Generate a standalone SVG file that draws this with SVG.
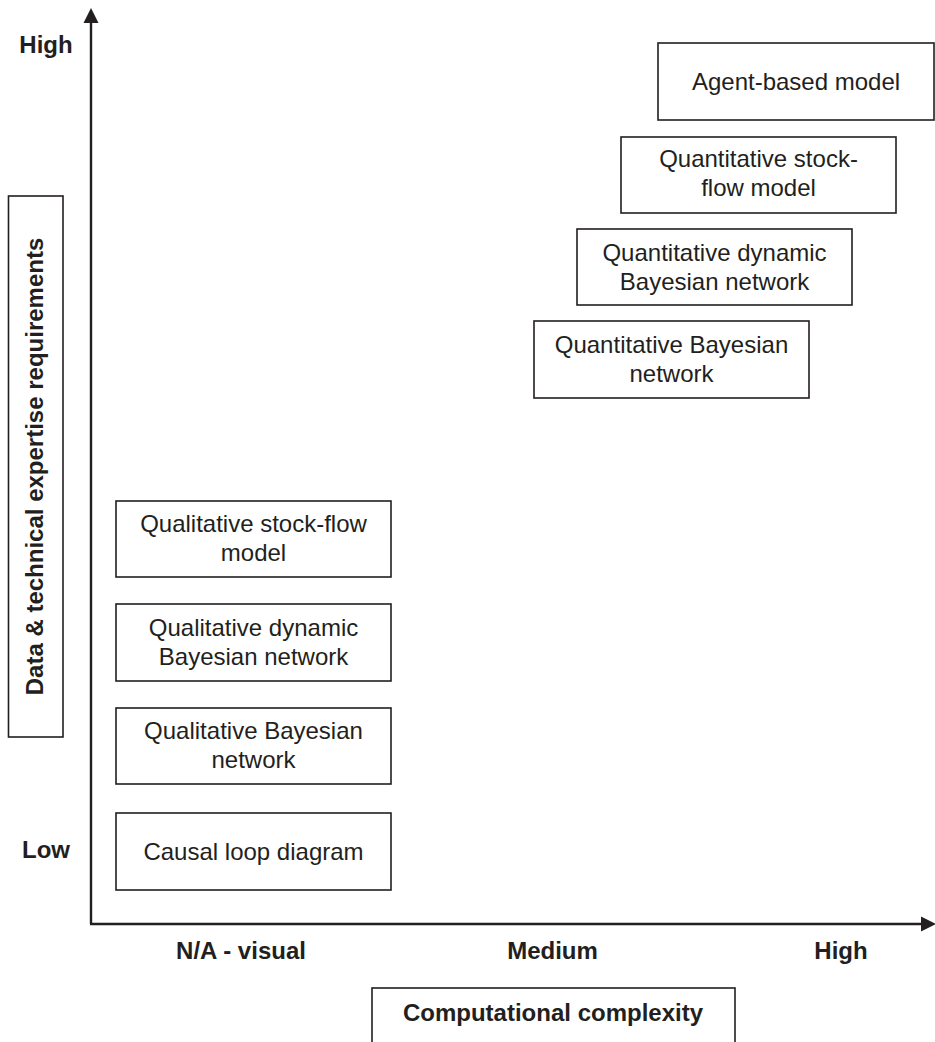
<svg xmlns="http://www.w3.org/2000/svg" width="935" height="1042" viewBox="0 0 935 1042">
<style>
.box{fill:#fff;stroke:#231f20;stroke-width:1.6}
.t{font-family:"Liberation Sans",Arial,sans-serif;font-size:24px;fill:#231f20;text-anchor:middle}
.b{font-family:"Liberation Sans",Arial,sans-serif;font-size:24px;font-weight:bold;fill:#231f20;text-anchor:middle}
.axis{stroke:#231f20;stroke-width:2.4;fill:none}
</style>
<rect width="935" height="1042" fill="#fff"/>
<g id="connectors">
<line class="axis" x1="91" y1="924" x2="91" y2="20"/>
<polygon points="91,8 83.5,23 98.5,23" fill="#231f20"/>
<line class="axis" x1="90" y1="924" x2="922" y2="924"/>
<polygon points="936,924 921,916.5 921,931.5" fill="#231f20"/>
</g>
<g id="axis-labels">
<text class="b" x="46" y="53">High</text>
<text class="b" x="46" y="858">Low</text>
<text class="b" x="241" y="959">N/A - visual</text>
<text class="b" x="552.5" y="959">Medium</text>
<text class="b" x="841" y="959">High</text>
</g>
<g id="y-title">
<rect class="box" x="8.5" y="196" width="54.5" height="541"/>
<text class="b" transform="translate(43,466.5) rotate(-90)">Data &amp; technical expertise requirements</text>
</g>
<g id="x-title">
<rect class="box" x="372" y="988" width="363" height="60"/>
<text class="b" x="553" y="1021">Computational complexity</text>
</g>
<g id="agent-based-model">
<rect class="box" x="658" y="43" width="276" height="77"/>
<text class="t" x="796" y="90">Agent-based model</text>
</g>
<g id="quant-stock-flow">
<rect class="box" x="621" y="137" width="275" height="76"/>
<text class="t" x="758.5" y="167">Quantitative stock-</text>
<text class="t" x="758.5" y="196">flow model</text>
</g>
<g id="quant-dynamic-bn">
<rect class="box" x="577" y="229" width="275" height="76"/>
<text class="t" x="714.5" y="261">Quantitative dynamic</text>
<text class="t" x="714.5" y="290">Bayesian network</text>
</g>
<g id="quant-bn">
<rect class="box" x="534" y="321" width="275" height="77"/>
<text class="t" x="671.5" y="353">Quantitative Bayesian</text>
<text class="t" x="671.5" y="382">network</text>
</g>
<g id="qual-stock-flow">
<rect class="box" x="116" y="501" width="275" height="76"/>
<text class="t" x="253.5" y="532">Qualitative stock-flow</text>
<text class="t" x="253.5" y="561">model</text>
</g>
<g id="qual-dynamic-bn">
<rect class="box" x="116" y="604" width="275" height="77"/>
<text class="t" x="253.5" y="636">Qualitative dynamic</text>
<text class="t" x="253.5" y="665">Bayesian network</text>
</g>
<g id="qual-bn">
<rect class="box" x="116" y="708" width="275" height="76"/>
<text class="t" x="253.5" y="739">Qualitative Bayesian</text>
<text class="t" x="253.5" y="768">network</text>
</g>
<g id="causal-loop-diagram">
<rect class="box" x="116" y="813" width="275" height="77"/>
<text class="t" x="253.5" y="860">Causal loop diagram</text>
</g>
</svg>
